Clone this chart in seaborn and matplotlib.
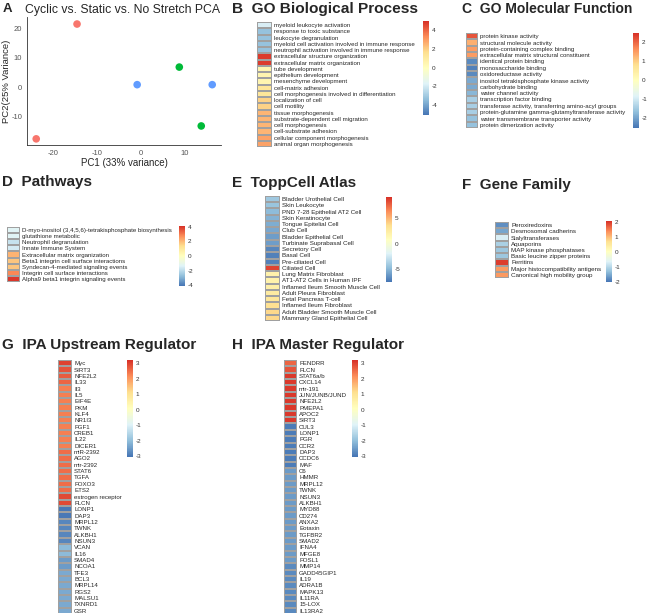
import numpy as np
import pandas as pd
import matplotlib
matplotlib.use("Agg")
import matplotlib.pyplot as plt
from matplotlib.colors import LinearSegmentedColormap
import seaborn as sns

sns.set_style("white")
plt.rcParams["font.family"] = ["Liberation Sans", "DejaVu Sans"]
plt.rcParams["axes.unicode_minus"] = False

W, H = 650, 613

# ---- data ----
pca_pc1 = [-14.6, -23.9, -0.9, 16.2, 8.7, 13.7]
pca_pc2 = [21.5, -17.7, 0.8, 0.8, 6.8, -13.3]
pca_group = ["Cyclic", "Cyclic", "Static", "Static", "No Stretch", "No Stretch"]

bp_terms = ["myeloid leukocyte activation", "response to toxic substance",
            "leukocyte degranulation",
            "myeloid cell activation involved in immune response",
            "neutrophil activation involved in immune response",
            "extracellular structure organization",
            "extracellular matrix organization", "tube development",
            "epithelium development", "mesenchyme development",
            "cell-matrix adhesion",
            "cell morphogenesis involved in differentiation",
            "localization of cell", "cell motility", "tissue morphogenesis",
            "substrate-dependent cell migration", "cell morphogenesis",
            "cell-substrate adhesion", "cellular component morphogenesis",
            "animal organ morphogenesis"]
bp_values = [-1.9, -3.3, -3.3, -3.3, -3.3, 4.8, 4.8, 0.5, 0.5, 0.5, 1.3, 1.3,
             1.9, 1.9, 2.5, 2.5, 2.5, 2.5, 2.9, 2.9]

mf_terms = ["protein kinase activity", "structural molecule activity",
            "protein-containing complex binding",
            "extracellular matrix structural constituent",
            "identical protein binding", "monosaccharide binding",
            "oxidoreductase activity",
            "inositol tetrakisphosphate kinase activity",
            "carbohydrate binding", "water channel activity",
            "transcription factor binding",
            "transferase activity, transferring amino-acyl groups",
            "protein-glutamine gamma-glutamyltransferase activity",
            "water transmembrane transporter activity",
            "protein dimerization activity"]
mf_values = [2.15, 1.3, 1.5, 1.5, -2.3, -2.4, -2.3, -1.95, -1.95, -1.8,
             -1.45, -1.45, -1.45, -1.65, -1.65]

pw_terms = ["D-myo-inositol (3,4,5,6)-tetrakisphosphate biosynthesis",
            "glutathione metabolic", "Neutrophil degranulation",
            "Innate Immune System", "Extracellular matrix organization",
            "Beta1 integrin cell surface interactions",
            "Syndecan-4-mediated signaling events",
            "Integrin cell surface interactions",
            "Alpha9 beta1 integrin signaling events"]
pw_values = [-1.3, -1.3, -1.8, -1.6, 2.1, 1.8, 1.8, 2.8, 4.0]

tc_terms = ["Bladder Urothelial Cell", "Skin Leukocyte",
            "PND 7-28 Epithelial AT2 Cell", "Skin Keratinocyte",
            "Tongue Epitelial Cell", "Club Cell", "Bladder Epithelial Cell",
            "Turbinate Suprabasal Cell", "Secretory Cell", "Basal Cell",
            "Pre-ciliated Cell", "Ciliated Cell", "Lung Matrix Fibroblast",
            "AT1-AT2 Cells in Human IPF",
            "Inflamed Ileum Smooth Muscle Cell", "Adult Pleura Fibroblast",
            "Fetal Pancreas T-cell", "Inflamed Ileum Fibroblast",
            "Adult Bladder Smooth Muscle Cell",
            "Mammary Gland Epithelial Cell"]
tc_values = [-4.2, -4.4, -4.8, -5.2, -5.4, -5.6, -6.0, -6.0, -6.8, -7.0,
             -7.0, 8.5, 2.0, 2.0, 2.2, 2.6, 3.0, 3.4, 3.8, 3.8]

gf_terms = ["Peroxiredoxins", "Desmosomal cadherins", "Sialyltransferases",
            "Aquaporins", "MAP kinase phosphatases",
            "Basic leucine zipper proteins", "Ferritins",
            "Major histocompatibility antigens",
            "Canonical high mobility group"]
gf_values = [-1.75, -1.55, -0.7, -1.1, -1.2, -1.2, 2.0, 1.3, 1.3]

up_terms = ["Myc", "SIRT3", "NFE2L2", "IL33", "Il3", "IL5", "EIF4E", "PKM",
            "KLF4", "NR1I3", "FGF1", "CREB1", "IL22", "DICER1", "miR-2392",
            "AGO2", "mir-2392", "STAT6", "TGFA", "FOXO3", "ETS2",
            "estrogen receptor", "FLCN", "LONP1", "DAP3", "MRPL12", "TWNK",
            "ALKBH1", "NSUN3", "VCAN", "IL16", "SMAD4", "NCOA1", "TFE3",
            "BCL3", "MRPL14", "RGS2", "MALSU1", "TXNRD1", "GSR"]
up_values = [3.0, 2.8, 2.7, 2.6, 2.3, 2.3, 2.3, 2.3, 2.3, 2.3, 2.3, 2.3,
             2.3, 2.3, 2.5, 2.5, 2.5, 2.5, 2.5, 2.5, 2.5, 2.9, 2.9, -3.0,
             -3.0, -2.8, -2.8, -2.8, -2.8, -2.05, -2.05, -2.5, -2.5, -2.3,
             -2.3, -2.3, -2.3, -2.3, -2.3, -2.3]

mr_terms = ["FENDRR", "FLCN", "STAT6a/b", "CXCL14", "mir-191",
            "JUN/JUNB/JUND", "NFE2L2", "PMEPA1", "APOC2", "SIRT3", "CUL3",
            "LONP1", "PGR", "CCR2", "DAP3", "CCDC6", "MAF", "C6", "HMMR",
            "MRPL12", "TWNK", "NSUN3", "ALKBH1", "MYD88", "CD274", "ANXA2",
            "Eotaxin", "TGFBR2", "SMAD2", "IFNA4", "MFGE8", "FOSL1", "MMP14",
            "GADD45GIP1", "IL19", "ADRA1B", "MAPK13", "IL11RA", "15-LOX",
            "IL13RA2"]
mr_values = [2.6, 2.8, 3.1, 3.1, 3.1, 3.1, 3.1, 3.1, 3.1, 3.1, -2.95, -2.95,
             -2.95, -2.95, -2.95, -2.95, -2.95, -2.5, -2.5, -2.5, -2.5, -2.5,
             -2.5, -2.5, -2.5, -2.5, -2.5, -2.5, -2.5, -2.5, -2.5, -2.5,
             -2.75, -2.75, -2.75, -2.75, -2.75, -2.75, -2.75, -2.75]

# pheatmap default palette
heat_cmap = LinearSegmentedColormap.from_list(
    "ph", ["#4575B4", "#91BFDB", "#E0F3F8", "#FFFFBF", "#FEE090",
           "#FC8D59", "#D73027"])


def px(x0, y0, x1, y1):
    return [x0 / W, 1 - y1 / H, (x1 - x0) / W, (y1 - y0) / H]


def title(x, y, text, size=11, weight="bold"):
    fig.text(x / W, 1 - y / H, text, fontsize=size, fontweight=weight,
             va="top", ha="left")


def heat(terms, values, cell, cbox, vmin, vmax, ticks, fs=4.4):
    ax = fig.add_axes(px(*cell))
    cax = fig.add_axes(px(*cbox))
    df = pd.DataFrame({"v": values}, index=terms)
    sns.heatmap(df, ax=ax, cbar_ax=cax, cmap=heat_cmap, vmin=vmin,
                vmax=vmax, linewidths=0.15, linecolor="#A0A0A0",
                xticklabels=False, yticklabels=True)
    ax.yaxis.tick_right()
    ax.tick_params(axis="y", length=0, pad=1.5, labelsize=fs,
                   labelrotation=0)
    ax.set_ylabel("")
    cbar = ax.collections[0].colorbar
    cbar.set_ticks(ticks)
    cbar.outline.set_visible(False)
    cax.tick_params(length=0, labelsize=4.6, pad=2, colors="#333333")


fig = plt.figure(figsize=(W / 100, H / 100), dpi=100)

# ---- A: PCA ----
axA = fig.add_axes(px(27, 17, 221, 145))
pca = pd.DataFrame({"PC1": pca_pc1, "PC2": pca_pc2, "group": pca_group})
sns.scatterplot(data=pca, x="PC1", y="PC2", hue="group", ax=axA, s=30,
                palette={"Cyclic": "#F8766D", "No Stretch": "#00BA38",
                         "Static": "#619CFF"},
                edgecolor="none", legend=False)
axA.set_xlim(-26, 18.2)
axA.set_ylim(-19.8, 23.9)
axA.set_xticks([-20, -10, 0, 10])
axA.set_yticks([-10, 0, 10, 20])
for side in ["top", "right"]:
    axA.spines[side].set_visible(False)
for side in ["left", "bottom"]:
    axA.spines[side].set_color("#333333")
    axA.spines[side].set_linewidth(0.6)
axA.tick_params(labelsize=5.5, colors="#555555", length=2, width=0.5,
                pad=1.5)
axA.set_xlabel("PC1 (33% variance)", fontsize=7, labelpad=1)
axA.set_ylabel("PC2(25% Variance)", fontsize=6.8)
axA.yaxis.set_label_coords(-16 / 194, 0.5)
title(3, 3, "A", size=9.5)
title(25, 4, "Cyclic vs. Static vs. No Stretch PCA", size=8.8,
      weight="normal")

# ---- heatmap panels ----
title(232, 2, "B  GO Biological Process", size=11.1)
heat(bp_terms, bp_values, (257, 22, 272, 147), (423, 21, 429, 115),
     -5.1, 5.0, [4, 2, 0, -2, -4], fs=4.4)

title(462, 2, "C  GO Molecular Function", size=10)
heat(mf_terms, mf_values, (466, 33, 478, 128), (633, 33, 639, 128),
     -2.55, 2.5, [2, 1, 0, -1, -2], fs=4.4)

title(2, 175, "D  Pathways")
heat(pw_terms, pw_values, (7, 227, 20, 282), (179, 226, 185, 286),
     -4.1, 4.1, [4, 2, 0, -2, -4], fs=4.4)

title(232, 176, "E  ToppCell Atlas")
heat(tc_terms, tc_values, (265, 196, 280, 321), (386, 197, 392, 282),
     -7.5, 9.1, [5, 0, -5], fs=4.5)

title(462, 178, "F  Gene Family")
heat(gf_terms, gf_values, (495, 222, 509, 278), (606, 221, 612, 282),
     -2.0, 2.1, [2, 1, 0, -1, -2], fs=4.5)

title(2, 338, "G  IPA Upstream Regulator")
heat(up_terms, up_values, (58, 360, 72, 614), (127, 360, 133, 457),
     -3.05, 3.2, [3, 2, 1, 0, -1, -2, -3], fs=4.4)

title(232, 338, "H  IPA Master Regulator")
heat(mr_terms, mr_values, (284, 360, 297, 614), (352, 360, 358, 457),
     -3.05, 3.2, [3, 2, 1, 0, -1, -2, -3], fs=4.4)

fig.savefig("out.png", dpi=100)
